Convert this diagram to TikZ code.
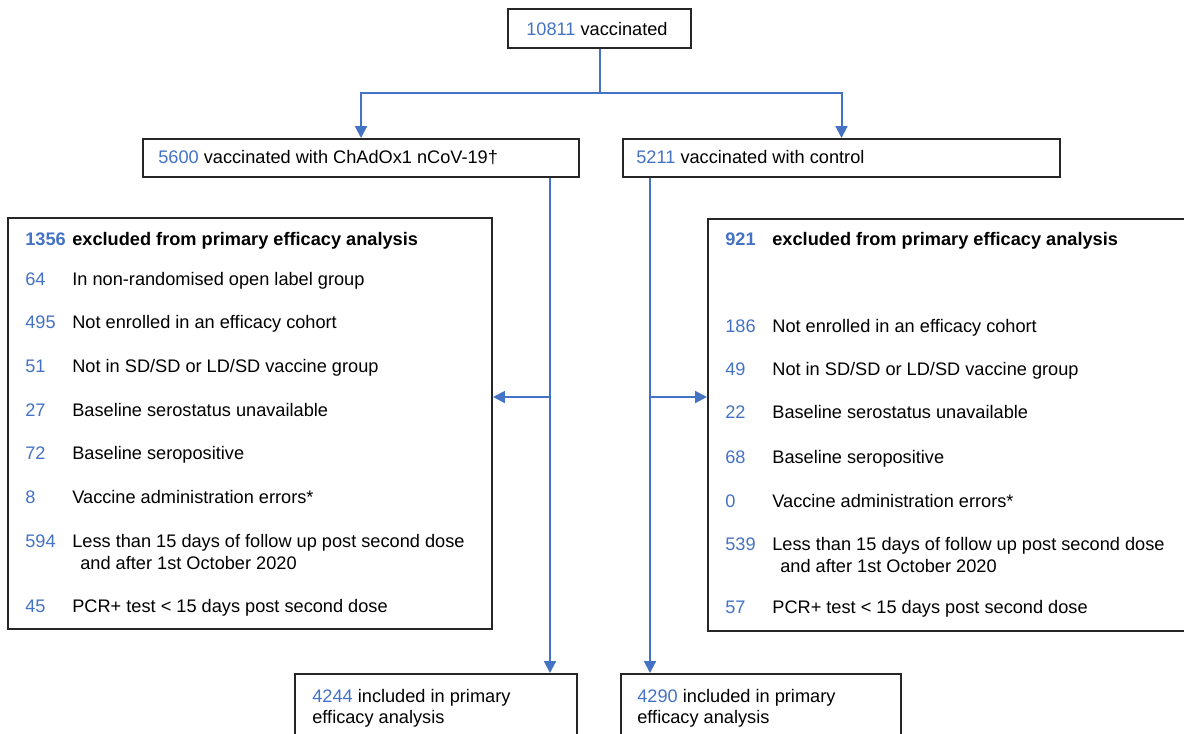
\documentclass[tikz,border=0pt]{standalone}
\usepackage{fontspec}
\setmainfont{Liberation Sans}
\usetikzlibrary{positioning, arrows.meta}

\definecolor{numblue}{RGB}{68,114,196}
\newcommand{\num}[1]{\textcolor{numblue}{#1}}
\newcommand{\px}{0.55pt}

\begin{document}
\begin{tikzpicture}[x=0.55pt, y=-0.55pt,
        box/.style={draw=black!85, line width=1.1pt, anchor=north west, inner sep=0pt},
        txt/.style={anchor=base west, inner sep=0pt, font=\fontsize{10}{12}\selectfont},
        link/.style={draw=numblue, line width=1.1pt},
        flow/.style={link, -{Triangle[length=6.5pt, width=6.5pt]}}]
        \useasboundingbox (0, 0) rectangle (1184, 733);

        % boxes
        \node[box, minimum width=183*\px, minimum height=39*\px] at (507, 8) (vacc) {};
        \node[box, minimum width=436*\px, minimum height=38*\px] at (142, 138) (chad) {};
        \node[box, minimum width=437*\px, minimum height=38*\px] at (622, 138) (ctrl) {};
        \node[box, minimum width=484*\px, minimum height=411*\px] at (7, 217) (exchad) {};
        \node[box, minimum width=490*\px, minimum height=412*\px] at (707, 218) (exctrl) {};
        \node[box, minimum width=282*\px, minimum height=80*\px] at (294, 673) (inchad) {};
        \node[box, minimum width=280*\px, minimum height=80*\px] at (620, 673) (inctrl) {};

        % box texts
        \node[txt] at (526, 35) (vacctxt) {\num{10811} vaccinated};
        \node[txt] at (158, 163) (chadtxt) {\num{5600} vaccinated with ChAdOx1 nCoV-19†};
        \node[txt] at (636, 163) (ctrltxt) {\num{5211} vaccinated with control};

        \node[txt] at (25, 245) (chadn0) {\num{\textbf{1356}}};
        \node[txt] at (72, 245) (chadt0) {\textbf{excluded from primary efficacy analysis}};
        \node[txt] at (25, 285) (chadn1) {\num{64}};
        \node[txt] at (72, 285) (chadt1) {In non-randomised open label group};
        \node[txt] at (25, 328) (chadn2) {\num{495}};
        \node[txt] at (72, 328) (chadt2) {Not enrolled in an efficacy cohort};
        \node[txt] at (25, 372) (chadn3) {\num{51}};
        \node[txt] at (72, 372) (chadt3) {Not in SD/SD or LD/SD vaccine group};
        \node[txt] at (25, 416) (chadn4) {\num{27}};
        \node[txt] at (72, 416) (chadt4) {Baseline serostatus unavailable};
        \node[txt] at (25, 459) (chadn5) {\num{72}};
        \node[txt] at (72, 459) (chadt5) {Baseline seropositive};
        \node[txt] at (25, 503) (chadn6) {\num{8}};
        \node[txt] at (72, 503) (chadt6) {Vaccine administration errors*};
        \node[txt] at (25, 547) (chadn7) {\num{594}};
        \node[txt] at (72, 547) (chadt7) {Less than 15 days of follow up post second dose};
        \node[txt] at (80, 569) (chadt7b) {and after 1st October 2020};
        \node[txt] at (25, 612) (chadn8) {\num{45}};
        \node[txt] at (72, 612) (chadt8) {PCR+ test < 15 days post second dose};

        \node[txt] at (725, 245) (ctrln0) {\num{\textbf{921}}};
        \node[txt] at (772, 245) (ctrlt0) {\textbf{excluded from primary efficacy analysis}};
        \node[txt] at (725, 332) (ctrln2) {\num{186}};
        \node[txt] at (772, 332) (ctrlt2) {Not enrolled in an efficacy cohort};
        \node[txt] at (725, 375) (ctrln3) {\num{49}};
        \node[txt] at (772, 375) (ctrlt3) {Not in SD/SD or LD/SD vaccine group};
        \node[txt] at (725, 418) (ctrln4) {\num{22}};
        \node[txt] at (772, 418) (ctrlt4) {Baseline serostatus unavailable};
        \node[txt] at (725, 463) (ctrln5) {\num{68}};
        \node[txt] at (772, 463) (ctrlt5) {Baseline seropositive};
        \node[txt] at (725, 507) (ctrln6) {\num{0}};
        \node[txt] at (772, 507) (ctrlt6) {Vaccine administration errors*};
        \node[txt] at (725, 550) (ctrln7) {\num{539}};
        \node[txt] at (772, 550) (ctrlt7) {Less than 15 days of follow up post second dose};
        \node[txt] at (780, 572) (ctrlt7b) {and after 1st October 2020};
        \node[txt] at (725, 613) (ctrln8) {\num{57}};
        \node[txt] at (772, 613) (ctrlt8) {PCR+ test < 15 days post second dose};

        \node[txt] at (312, 702) (inchadt1) {\num{4244} included in primary};
        \node[txt] at (312, 723) (inchadt2) {efficacy analysis};
        \node[txt] at (637, 702) (inctrlt1) {\num{4290} included in primary};
        \node[txt] at (637, 723) (inctrlt2) {efficacy analysis};

        % connectors
        \coordinate (split) at (vacc.south |- 0, 93);
        \path (chad.south east) ++(-30, 0) coordinate (lstem) ++(0, 219) coordinate (lbranch);
        \path (ctrl.south west) ++(28, 0) coordinate (rstem) ++(0, 219) coordinate (rbranch);

        \draw[link] (vacc.south) -- (split);
        \draw[flow] (split) -| (chad.north);
        \draw[flow] (split) -| (ctrl.north);
        \draw[flow] (lstem) -- (lstem |- inchad.north);
        \draw[flow] (lbranch) -- (lbranch -| exchad.east);
        \draw[flow] (rstem) -- (rstem |- inctrl.north);
        \draw[flow] (rbranch) -- (rbranch -| exctrl.west);
    \end{tikzpicture}
\end{document}
